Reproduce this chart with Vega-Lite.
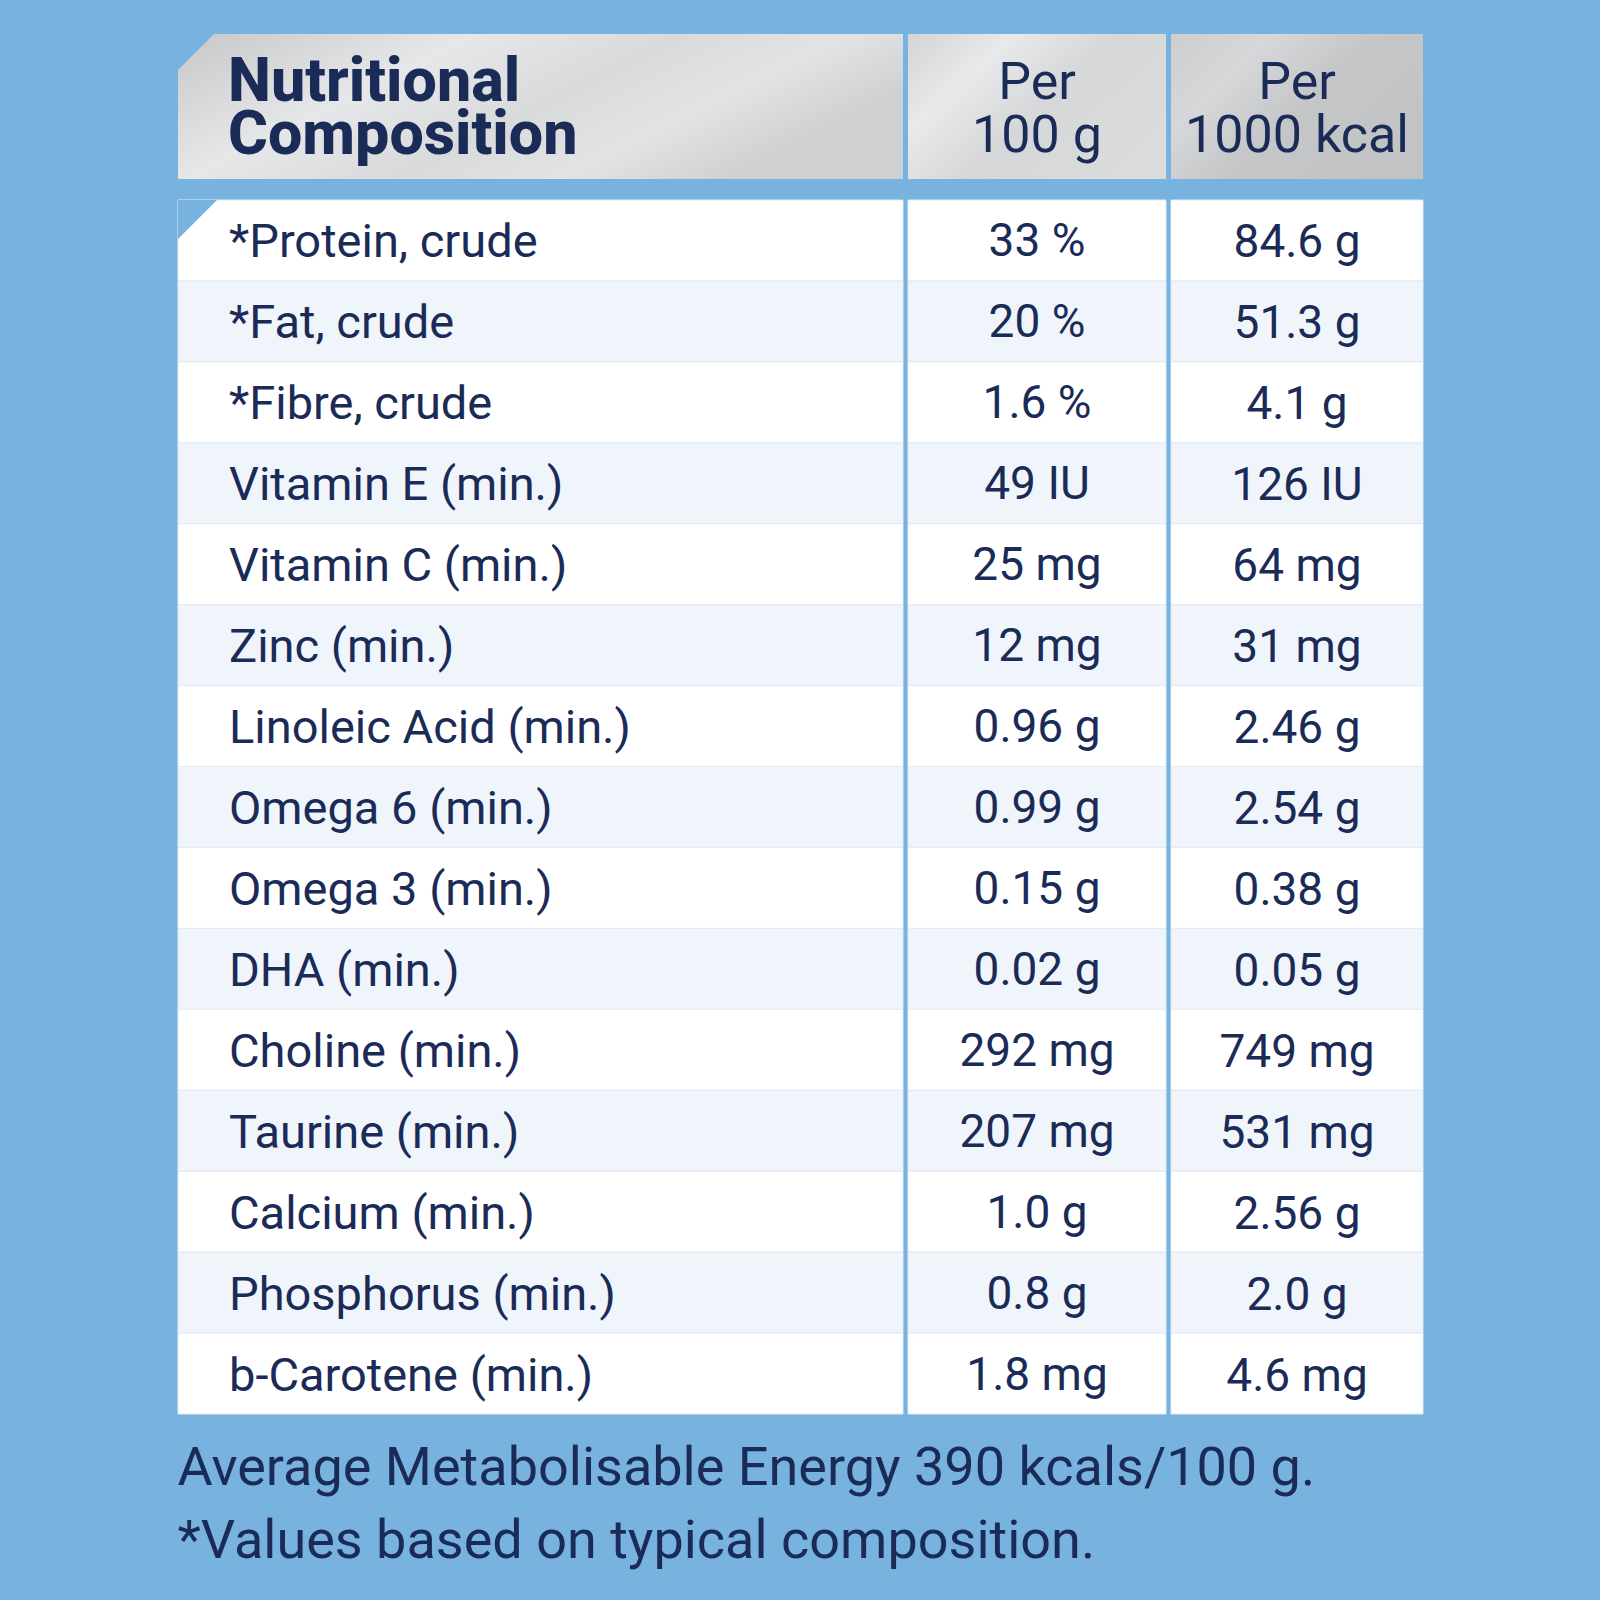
{
  "$schema": "https://vega.github.io/schema/vega-lite/v6.json",
  "background": "#78B2DF",
  "padding": {"left": 177, "top": 34, "right": 178, "bottom": 32},
  "config": {
    "view": {"stroke": null},
    "font": "Roboto",
    "title": {"font": "Roboto"}
  },
  "title": {
    "text": ["Average Metabolisable Energy 390 kcals/100 g.", "*Values based on typical composition."],
    "orient": "bottom",
    "anchor": "start",
    "font": "Roboto",
    "fontSize": 54,
    "fontWeight": "normal",
    "color": "#1B2B57",
    "lineHeight": 73,
    "offset": 27
  },
  "datasets": {
    "rows": [
      {"row": 1, "nutrient": "*Protein, crude", "per100g": "33 %", "per1000kcal": "84.6 g"},
      {"row": 2, "nutrient": "*Fat, crude", "per100g": "20 %", "per1000kcal": "51.3 g"},
      {"row": 3, "nutrient": "*Fibre, crude", "per100g": "1.6 %", "per1000kcal": "4.1 g"},
      {"row": 4, "nutrient": "Vitamin E (min.)", "per100g": "49 IU", "per1000kcal": "126 IU"},
      {"row": 5, "nutrient": "Vitamin C (min.)", "per100g": "25 mg", "per1000kcal": "64 mg"},
      {"row": 6, "nutrient": "Zinc (min.)", "per100g": "12 mg", "per1000kcal": "31 mg"},
      {"row": 7, "nutrient": "Linoleic Acid (min.)", "per100g": "0.96 g", "per1000kcal": "2.46 g"},
      {"row": 8, "nutrient": "Omega 6 (min.)", "per100g": "0.99 g", "per1000kcal": "2.54 g"},
      {"row": 9, "nutrient": "Omega 3 (min.)", "per100g": "0.15 g", "per1000kcal": "0.38 g"},
      {"row": 10, "nutrient": "DHA (min.)", "per100g": "0.02 g", "per1000kcal": "0.05 g"},
      {"row": 11, "nutrient": "Choline (min.)", "per100g": "292 mg", "per1000kcal": "749 mg"},
      {"row": 12, "nutrient": "Taurine (min.)", "per100g": "207 mg", "per1000kcal": "531 mg"},
      {"row": 13, "nutrient": "Calcium (min.)", "per100g": "1.0 g", "per1000kcal": "2.56 g"},
      {"row": 14, "nutrient": "Phosphorus (min.)", "per100g": "0.8 g", "per1000kcal": "2.0 g"},
      {"row": 15, "nutrient": "b-Carotene (min.)", "per100g": "1.8 mg", "per1000kcal": "4.6 mg"}
    ],
    "header": [
      {"column": "name", "line": 1, "text": "Nutritional"},
      {"column": "name", "line": 2, "text": "Composition"},
      {"column": "per100g", "line": 1, "text": "Per"},
      {"column": "per100g", "line": 2, "text": "100 g"},
      {"column": "per1000kcal", "line": 1, "text": "Per"},
      {"column": "per1000kcal", "line": 2, "text": "1000 kcal"}
    ]
  },
  "spacing": 20,
  "vconcat": [
    {
      "spacing": 5,
      "bounds": "flush",
      "hconcat": [
        {
          "width": 725, "height": 145,
          "layer": [
            {"data": {"values": [{}]}, "mark": {"type": "rect", "fill": {"gradient": "linear", "x1": 0, "y1": 0, "x2": 1, "y2": 0.4, "stops": [{"offset": 0, "color": "#C6C7C9"}, {"offset": 0.35, "color": "#E6E7E8"}, {"offset": 0.6, "color": "#D9DADB"}, {"offset": 0.8, "color": "#E2E3E4"}, {"offset": 1, "color": "#CFD0D2"}]}}, "encoding": {}},
            {"data": {"values": [{}]}, "mark": {"type": "point", "shape": "M0,0L2,0L0,2Z", "size": 1296, "filled": true, "fill": "#78B2DF", "strokeWidth": 0, "opacity": 1}, "encoding": {"x": {"value": 0}, "y": {"value": 0}}},
            {
              "data": {"name": "header"},
              "transform": [{"filter": "datum.column === 'name'"}],
              "mark": {"type": "text", "align": "left", "baseline": "middle", "fontSize": 61, "fontWeight": 800, "color": "#1B2B57", "dy": 3},
              "encoding": {
                "y": {"field": "line", "type": "ordinal", "scale": {"padding": 0.843}, "axis": null},
                "x": {"value": 50},
                "text": {"field": "text"}
              }
            }
          ]
        },
        {
          "width": 258, "height": 145,
          "layer": [
            {"data": {"values": [{}]}, "mark": {"type": "rect", "fill": {"gradient": "linear", "x1": 0, "y1": 0, "x2": 1, "y2": 0.6, "stops": [{"offset": 0, "color": "#D3D4D6"}, {"offset": 0.3, "color": "#E8E9EA"}, {"offset": 0.6, "color": "#D6D7D9"}, {"offset": 1, "color": "#DADBDC"}]}}, "encoding": {}},
            {
              "data": {"name": "header"},
              "transform": [{"filter": "datum.column === 'per100g'"}],
              "mark": {"type": "text", "align": "center", "baseline": "middle", "fontSize": 52, "fontWeight": "normal", "color": "#1B2B57", "dy": 3},
              "encoding": {
                "y": {"field": "line", "type": "ordinal", "scale": {"padding": 0.843}, "axis": null},
                "text": {"field": "text"}
              }
            }
          ]
        },
        {
          "width": 252, "height": 145,
          "layer": [
            {"data": {"values": [{}]}, "mark": {"type": "rect", "fill": {"gradient": "linear", "x1": 0, "y1": 0, "x2": 1, "y2": 0.6, "stops": [{"offset": 0, "color": "#CDCECF"}, {"offset": 0.3, "color": "#D6D7D8"}, {"offset": 0.6, "color": "#C5C6C8"}, {"offset": 1, "color": "#C2C3C5"}]}}, "encoding": {}},
            {
              "data": {"name": "header"},
              "transform": [{"filter": "datum.column === 'per1000kcal'"}],
              "mark": {"type": "text", "align": "center", "baseline": "middle", "fontSize": 52, "fontWeight": "normal", "color": "#1B2B57", "dy": 3},
              "encoding": {
                "y": {"field": "line", "type": "ordinal", "scale": {"padding": 0.843}, "axis": null},
                "text": {"field": "text"}
              }
            }
          ]
        }
      ]
    },
    {
      "spacing": 5,
      "bounds": "flush",
      "hconcat": [
        {
          "width": 725, "height": 1214,
          "data": {"name": "rows"},
          "layer": [
            {
              "mark": {"type": "rect", "stroke": "#E3EAF2", "strokeWidth": 1},
              "encoding": {
                "y": {"field": "row", "type": "ordinal", "scale": {"paddingInner": 0, "paddingOuter": 0}, "axis": null},
                "color": {"condition": {"test": "datum.row % 2 === 0", "value": "#EFF5FB"}, "value": "#FFFFFF"}
              }
            },
            {"data": {"values": [{}]}, "mark": {"type": "point", "shape": "M0,0L2,0L0,2Z", "size": 1521, "filled": true, "fill": "#78B2DF", "strokeWidth": 0, "opacity": 1}, "encoding": {"x": {"value": 0}, "y": {"value": 0}}},
            {
              "mark": {"type": "text", "align": "left", "baseline": "middle", "fontSize": 47, "color": "#1B2B57", "dy": 3},
              "encoding": {
                "y": {"field": "row", "type": "ordinal", "axis": null},
                "x": {"value": 51},
                "text": {"field": "nutrient"}
              }
            }
          ]
        },
        {
          "width": 258, "height": 1214,
          "data": {"name": "rows"},
          "layer": [
            {
              "mark": {"type": "rect", "stroke": "#E3EAF2", "strokeWidth": 1},
              "encoding": {
                "y": {"field": "row", "type": "ordinal", "scale": {"paddingInner": 0, "paddingOuter": 0}, "axis": null},
                "color": {"condition": {"test": "datum.row % 2 === 0", "value": "#EFF5FB"}, "value": "#FFFFFF"}
              }
            },
            {
              "mark": {"type": "text", "align": "center", "baseline": "middle", "fontSize": 46, "color": "#1B2B57", "dy": 2},
              "encoding": {
                "y": {"field": "row", "type": "ordinal", "axis": null},
                "text": {"field": "per100g"}
              }
            }
          ]
        },
        {
          "width": 252, "height": 1214,
          "data": {"name": "rows"},
          "layer": [
            {
              "mark": {"type": "rect", "stroke": "#E3EAF2", "strokeWidth": 1},
              "encoding": {
                "y": {"field": "row", "type": "ordinal", "scale": {"paddingInner": 0, "paddingOuter": 0}, "axis": null},
                "color": {"condition": {"test": "datum.row % 2 === 0", "value": "#EFF5FB"}, "value": "#FFFFFF"}
              }
            },
            {
              "mark": {"type": "text", "align": "center", "baseline": "middle", "fontSize": 46, "color": "#1B2B57", "dy": 3},
              "encoding": {
                "y": {"field": "row", "type": "ordinal", "axis": null},
                "text": {"field": "per1000kcal"}
              }
            }
          ]
        }
      ]
    }
  ]
}
